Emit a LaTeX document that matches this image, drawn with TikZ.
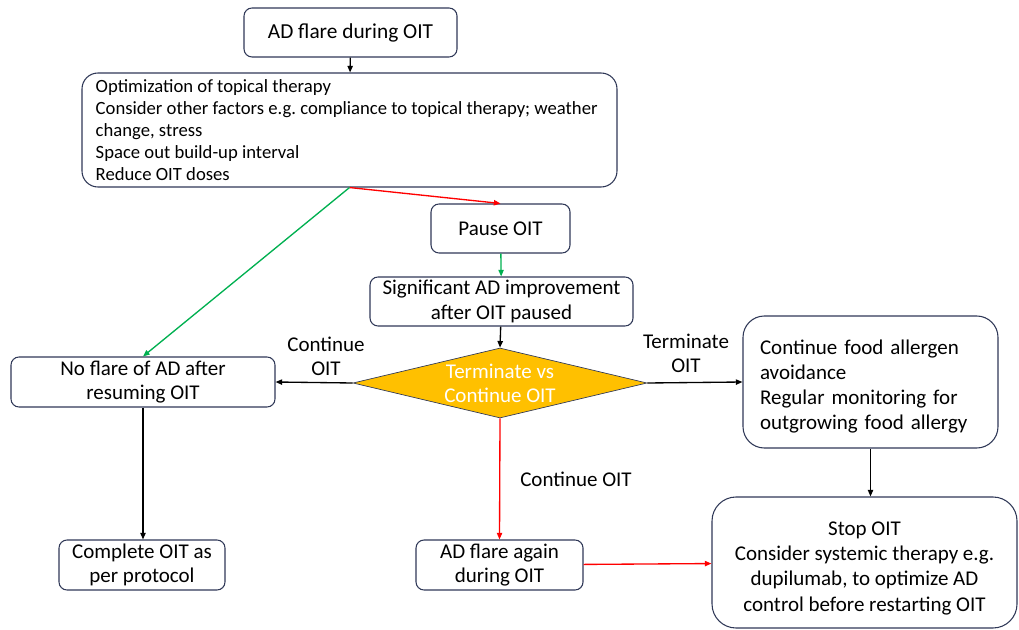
\documentclass[tikz,border=0pt]{standalone}
\usepackage{fontspec}
\setmainfont{Carlito}
\usetikzlibrary{shapes.geometric,arrows.meta}
\definecolor{boxline}{HTML}{2F3857}
\definecolor{gold}{HTML}{FFC000}
\definecolor{grn}{HTML}{00B050}
\definecolor{rd}{HTML}{FF0000}
\begin{document}
\begin{tikzpicture}[x=0.75pt,y=-0.75pt,
  box/.style={draw=boxline,line width=0.8pt,rounded corners=6pt,align=center,inner sep=2pt,font=\fontsize{15.75}{18.5}\selectfont},
  lbl/.style={align=center,font=\fontsize{15.75}{18}\selectfont},
  arr/.style={-{Triangle[length=5pt,width=4pt]},line width=1pt}]
\useasboundingbox (0,0) rectangle (1019,630);
\node[box,minimum width=159.75pt,minimum height=36.75pt,font=\fontsize{16}{19}\selectfont] (b1) at (350.5,32.5) {AD flare during OIT};
\node[box,rounded corners=12pt,minimum width=401.25pt,minimum height=85.5pt] (b2) at (349.5,130) {};
\node[anchor=west,align=left,inner sep=0pt,font=\fontsize{14}{16.5}\selectfont] (b2t) at ([xshift=10.5pt]b2.west) {Optimization of topical therapy\\Consider other factors e.g.\ compliance to topical therapy; weather\\change, stress\\Space out build-up interval\\Reduce OIT doses};
\node[box,minimum width=104.25pt,minimum height=36.75pt] (pause) at (500.5,228.5) {Pause OIT};
\node[box,minimum width=197.25pt,minimum height=36.75pt] (sig) at (501.5,301.5) {Significant AD improvement\\after OIT paused};
\node[diamond,fill=gold,draw=boxline,line width=0.5pt,minimum width=220.5pt,minimum height=52.5pt,inner sep=0pt] (dia) at (500,383) {};
\node[lbl,text=white] (diat) at (dia.center) {Terminate vs\\Continue OIT};
\node[box,minimum width=198pt,minimum height=37.5pt] (nofl) at (143,382) {No flare of AD after\\resuming OIT};
\node[box,minimum width=124.5pt,minimum height=37.5pt] (comp) at (142,565) {Complete OIT as\\per protocol};
\node[box,minimum width=125.25pt,minimum height=37.5pt] (again) at (499.5,565) {AD flare again\\during OIT};
\node[box,rounded corners=16pt,minimum width=191.25pt,minimum height=99pt,text width=165.75pt,inner xsep=12.75pt,inner ysep=0pt,align=left,font=\fontsize{15.75}{18.75}\selectfont] (food) at (870.5,382) {\rule{0pt}{17pt}Continue food allergen\\avoidance\\Regular monitoring for\\outgrowing food allergy};
\node[box,rounded corners=18pt,minimum width=228.75pt,minimum height=98.25pt,inner ysep=0pt,font=\fontsize{15.75}{19}\selectfont] (stop) at (864.5,562.5) {\rule{0pt}{18.5pt}Stop OIT\\Consider systemic therapy e.g.\\dupilumab, to optimize AD\\control before restarting OIT};
\draw[arr] (b1) -- (b2);
\draw[arr,rd] (b2.south) -- (pause.north);
\draw[arr,grn] (b2.south) -- (nofl.north);
\draw[arr,grn] (pause) -- (sig);
\draw[arr] (sig) -- (dia.north);
\draw[arr] (dia.west) -- (nofl.east);
\draw[arr] (dia.east) -- (food.west);
\draw[arr,rd] (dia.south) -- (again.north);
\draw[arr] (nofl.south) -- (nofl.south |- comp.north);
\draw[arr] (food.south) -- (food.south |- stop.north);
\draw[arr,rd] (again) -- (stop);
\node[lbl] (l1) at (326,356) {Continue\\OIT};
\node[lbl] (l2) at (686,353) {Terminate\\OIT};
\node[lbl] (l3) at (576,479) {Continue OIT};
\end{tikzpicture}
\end{document}
